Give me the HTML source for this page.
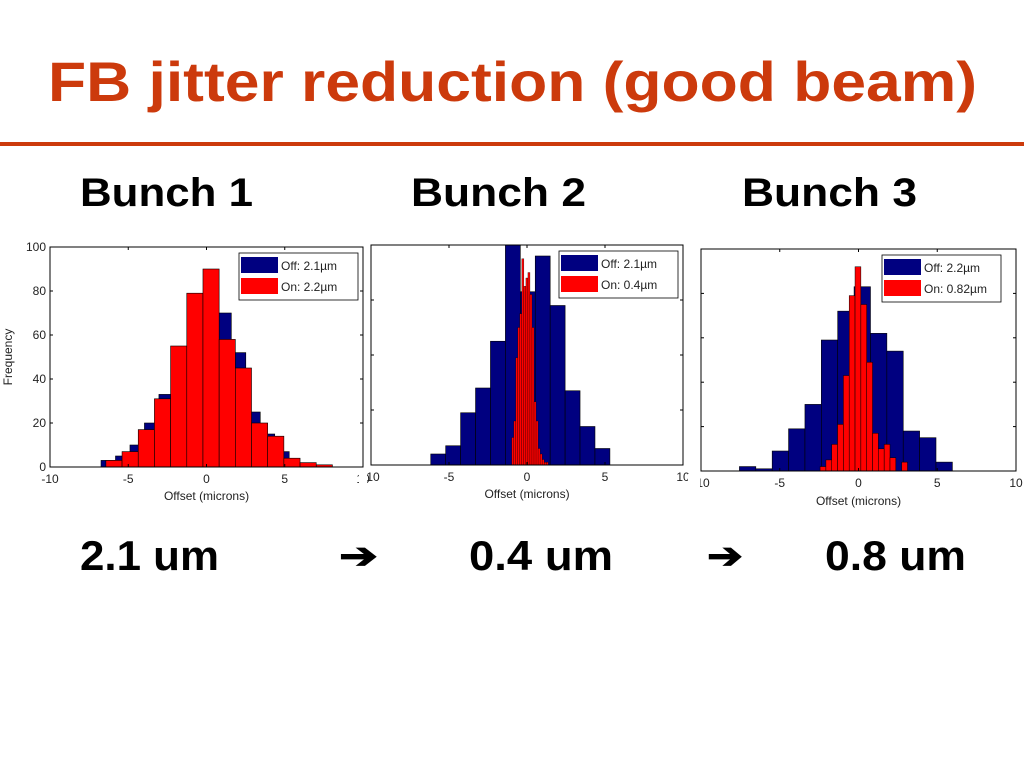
<!DOCTYPE html>
<html><head><meta charset="utf-8"><style>
html,body{margin:0;padding:0;background:#fff;}
svg{display:block;font-family:"Liberation Sans",Arial,sans-serif;}
</style></head><body>
<svg id="s" width="1024" height="768" viewBox="0 0 1024 768">
<text x="48" y="101" font-size="56" font-weight="bold" fill="#cc3a0c" textLength="929" lengthAdjust="spacingAndGlyphs">FB jitter reduction (good beam)</text>
<rect x="0" y="142" width="1024" height="4" fill="#cc3a0c"/>
<text x="80" y="206" font-size="40" font-weight="bold" textLength="173" lengthAdjust="spacingAndGlyphs">Bunch 1</text>
<text x="411" y="206" font-size="40" font-weight="bold" textLength="175" lengthAdjust="spacingAndGlyphs">Bunch 2</text>
<text x="742" y="206" font-size="40" font-weight="bold" textLength="175" lengthAdjust="spacingAndGlyphs">Bunch 3</text>
<text x="80" y="570" font-size="42" font-weight="bold" textLength="139" lengthAdjust="spacingAndGlyphs">2.1 um</text>
<text x="339" y="568" font-size="36" font-weight="bold" textLength="39" lengthAdjust="spacingAndGlyphs">➔</text>
<text x="469" y="570" font-size="42" font-weight="bold" textLength="144" lengthAdjust="spacingAndGlyphs">0.4 um</text>
<text x="707" y="568" font-size="36" font-weight="bold" textLength="36" lengthAdjust="spacingAndGlyphs">➔</text>
<text x="825" y="570" font-size="42" font-weight="bold" textLength="141" lengthAdjust="spacingAndGlyphs">0.8 um</text>
</svg>
<script>
// Bunch 1 data
const b1OffStart = -6.74, b1OffWidth = 0.925;
const b1Off = [3,5,10,20,33,48,75,69,70,52,25,15,7];
const b1OnStart = -6.43, b1OnWidth = 1.034;
const b1On = [3,7,17,31,55,79,90,58,45,20,14,4,2,1];
// Bunch 2 data
const b2OffStart = -6.17, b2OffWidth = 0.957;
const b2Off = [4,7,19,28,45,82,63,76,58,27,14,6];
const b2OnStart = -0.98, b2OnWidth = 0.13;
const b2On = [10,16,39,50,55,75,65,68,70,62,50,23,16,6,4,2,1,1];
// Bunch 3 data
const b3OffStart = -7.56, b3OffWidth = 1.04;
const b3Off = [2,1,9,19,30,59,72,83,62,54,18,15,4];
const b3OnStart = -2.44, b3OnWidth = 0.37;
const b3On = [2,5,12,21,43,79,92,75,49,17,10,12,6,0,4];
const xTicks = [-10,-5,0,5,10];
const yTicks1 = [0,20,40,60,80,100];
const legend1 = ["Off: 2.1\u00b5m","On: 2.2\u00b5m"];
const legend2 = ["Off: 2.1\u00b5m","On: 0.4\u00b5m"];
const legend3 = ["Off: 2.2\u00b5m","On: 0.82\u00b5m"];

const NS="http://www.w3.org/2000/svg";
const svg=document.getElementById('s');
function mk(t,a,p){const e=document.createElementNS(NS,t);for(const k in a)e.setAttribute(k,a[k]);(p||svg).appendChild(e);return e;}

function chart(id,L,T,R,B,ymax,yt,showY,off,on,leg,lx,ly,xlabY,sw){
  const g=mk('g',{});
  
  
  const sx=v=>L+(v+10)/20*(R-L);
  const sy=v=>B-Math.min(v,ymax)/ymax*(B-T);
  mk('rect',{x:L,y:T,width:R-L,height:B-T,fill:'#fff',stroke:'none'},g);
  [[off,'#000080','off',0.6],[on,'#ff0000','on',sw]].forEach(([s,c,n,w])=>{
    s.vals.forEach((v,i)=>{
      const x0=sx(s.start+i*s.w),x1=sx(s.start+(i+1)*s.w);
      if(v<=0)return;
      const r=mk('rect',{x:x0,y:sy(v),width:x1-x0,height:B-sy(v),fill:c,stroke:'#000','stroke-width':w},g);
      
      
    });
  });
  mk('rect',{x:L,y:T,width:R-L,height:B-T,fill:'none',stroke:'#000','stroke-width':1},g);
  xTicks.forEach(t=>{
    const x=sx(t);
    mk('line',{x1:x,x2:x,y1:B,y2:B-3,stroke:'#000'},g);
    mk('line',{x1:x,x2:x,y1:T,y2:T+3,stroke:'#000'},g);
    const tx=mk('text',{x:x,y:B+16,'font-size':12,'text-anchor':'middle',fill:'#222'},g);
    tx.textContent=t;
    
    
  });
  yt.forEach(t=>{
    const y=sy(t);
    mk('line',{x1:L,x2:L+3,y1:y,y2:y,stroke:'#000'},g);
    mk('line',{x1:R,x2:R-3,y1:y,y2:y,stroke:'#000'},g);
    if(showY){
      const tx=mk('text',{x:L-4,y:y+4,'font-size':12,'text-anchor':'end',fill:'#222'},g);
      tx.textContent=t;
      
      
    }
  });
  const xl=mk('text',{x:(L+R)/2,y:xlabY,'font-size':12,'text-anchor':'middle',fill:'#222'},g);
  xl.textContent='Offset (microns)';
  
  
  const lw=leg[1].length>11?128:119;
  const lg=mk('g',{},g);
  
  
  mk('rect',{x:lx,y:ly,width:lw,height:47,fill:'#fff',stroke:'#000','stroke-width':0.8},lg);
  [['#000080',leg[0]],['#ff0000',leg[1]]].forEach(([c,t],i)=>{
    mk('rect',{x:lx+2,y:ly+4+i*21,width:37,height:16,fill:c},lg);
    const tx=mk('text',{x:lx+42,y:ly+17+i*21,'font-size':12,fill:'#222'},lg);
    tx.textContent=t;
    
    
  });
}
chart('histogram-bunch-1',50,247,363,467,100,yTicks1,true,
  {start:b1OffStart,w:b1OffWidth,vals:b1Off},{start:b1OnStart,w:b1OnWidth,vals:b1On},legend1,239,253,500,0.6);
chart('histogram-bunch-2',371,245,683,465,80,[0,20,40,60,80],false,
  {start:b2OffStart,w:b2OffWidth,vals:b2Off},{start:b2OnStart,w:b2OnWidth,vals:b2On},legend2,559,251,498,0.3);
chart('histogram-bunch-3',701,249,1016,471,100,yTicks1,false,
  {start:b3OffStart,w:b3OffWidth,vals:b3Off},{start:b3OnStart,w:b3OnWidth,vals:b3On},legend3,882,255,505,0.5);
// clip tick labels cut by neighbouring figure edges
mk('rect',{x:359,y:468,width:8,height:18,fill:'#fff'});
mk('rect',{x:688,y:474,width:12,height:18,fill:'#fff'});
const yl=mk('text',{x:12,y:357,'font-size':12,'text-anchor':'middle',fill:'#222',transform:'rotate(-90 12 357)'});
yl.textContent='Frequency';


</script>
</body></html>
